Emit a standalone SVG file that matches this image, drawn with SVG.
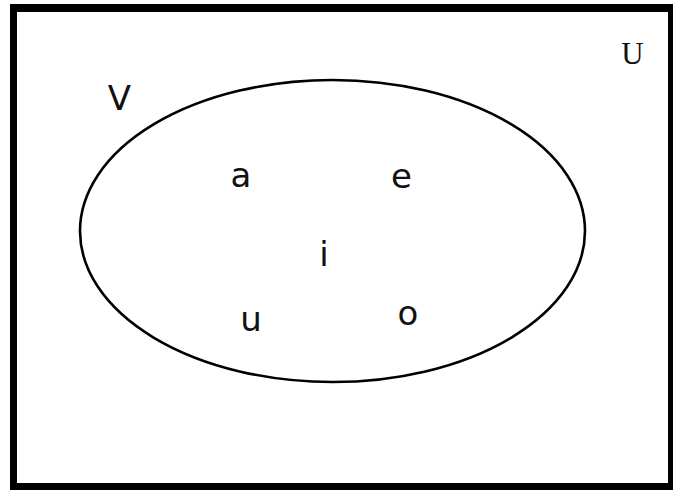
<svg xmlns="http://www.w3.org/2000/svg" width="673" height="490" viewBox="0 0 673 490">
<style>
.s{font-family:"DejaVu Sans",Verdana,sans-serif;font-size:34px;fill:#111;text-anchor:middle}
.u{font-family:"Liberation Serif","DejaVu Serif",serif;font-size:31px;fill:#111;text-anchor:middle}
</style>
<rect width="673" height="490" fill="#fff"/>
<g id="universe">
<path d="M10,4H673V490H10Z M17,12V483H668V12Z" fill="#000" fill-rule="evenodd"/>
<text class="u" x="632.5" y="64">U</text>
</g>
<g id="setV">
<ellipse cx="332.5" cy="231" rx="252.5" ry="151" fill="none" stroke="#000" stroke-width="2.6"/>
<text class="s" x="119.5" y="110">V</text>
</g>
<g id="a"><text class="s" x="241" y="187">a</text></g>
<g id="e"><text class="s" x="401.5" y="188">e</text></g>
<g id="i"><text class="s" x="324" y="266">i</text></g>
<g id="u"><text class="s" x="251" y="331">u</text></g>
<g id="o"><text class="s" x="408" y="325">o</text></g>
<g id="connectors"></g>
</svg>
